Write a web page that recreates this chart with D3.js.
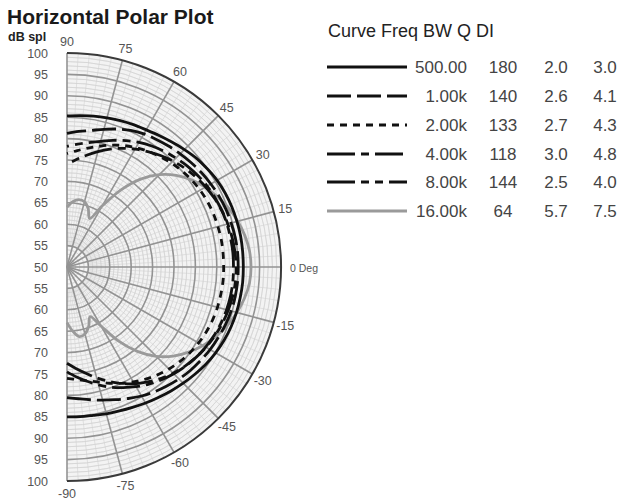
<!DOCTYPE html>
<html>
<head>
<meta charset="utf-8">
<script src="https://cdn.jsdelivr.net/npm/d3@7"></script>
<style>
  body { margin: 0; background: #fff; }
  svg { display: block; font-family: "Liberation Sans", Arial, sans-serif; }
</style>
</head>
<body>
<div id="chart"></div>
<script>
const width = 629;
const height = 501;

// data
const angles = [-90, -85, -80, -75, -70, -65, -60, -55, -50, -45, -40, -35, -30, -25, -20, -15, -10, -5,
    0, 5, 10, 15, 20, 25, 30, 35, 40, 45, 50, 55, 60, 65, 70, 75, 80, 85, 90];

const freqs = ['500.00', '1.00k', '2.00k', '4.00k', '8.00k', '16.00k'];
const bandwidths = [180, 140, 133, 118, 144, 64];
const qValues = ['2.0', '2.6', '2.7', '3.0', '2.5', '5.7'];
const diValues = ['3.0', '4.1', '4.3', '4.8', '4.0', '7.5'];

const spl500 = [85.0, 85.1, 85.2, 85.5, 85.8, 86.2, 86.7, 87.2, 87.8, 88.4, 89.0, 89.6, 90.1, 90.5, 90.8, 91.0, 91.1, 91.2,
    91.2, 91.2, 91.2, 91.1, 91.0, 90.8, 90.5, 90.0, 89.5, 88.8, 88.1, 87.5, 87.0, 86.7, 86.4, 86.1, 85.8, 85.5, 85.3];
const spl1k = [80.5, 80.9, 81.5, 82.2, 83.0, 83.9, 84.8, 85.6, 86.3, 87.0, 87.6, 88.1, 88.6, 89.0, 89.4, 89.7, 89.9, 90.0,
    90.0, 90.0, 89.9, 89.7, 89.5, 89.2, 88.8, 88.4, 87.9, 87.4, 86.9, 86.4, 85.9, 85.2, 84.3, 83.3, 82.4, 81.8, 81.2];
const spl2k = [76.0, 76.4, 77.0, 77.8, 78.9, 80.0, 81.0, 82.0, 82.9, 83.7, 84.4, 85.0, 85.5, 85.9, 86.2, 86.4, 86.5, 86.6,
    86.6, 86.6, 86.6, 86.5, 86.4, 86.2, 85.9, 85.5, 85.0, 84.4, 83.7, 83.0, 82.2, 81.3, 80.3, 79.2, 78.2, 77.3, 76.5];
const spl4k = [74.5, 75.8, 77.1, 78.5, 79.9, 81.1, 82.3, 83.4, 84.4, 85.3, 86.1, 86.8, 87.4, 87.9, 88.3, 88.6, 88.8, 88.9,
    88.9, 88.9, 88.8, 88.7, 88.5, 88.2, 87.8, 87.3, 86.7, 86.0, 85.3, 84.5, 83.6, 82.6, 81.5, 80.4, 79.5, 78.8, 78.2];
const spl8k = [72.5, 73.8, 75.2, 76.8, 78.4, 80.0, 81.5, 82.8, 84.0, 85.1, 86.0, 86.8, 87.5, 88.1, 88.6, 89.0, 89.3, 89.5,
    89.5, 89.4, 89.2, 88.9, 88.5, 88.0, 87.4, 86.7, 85.9, 85.0, 84.0, 82.9, 81.8, 80.6, 79.3, 77.9, 76.5, 75.2, 74.0];
const spl16k = [63.0, 65.0, 66.5, 66.2, 64.8, 62.8, 66.0, 71.2, 75.8, 79.5, 82.4, 84.7, 86.7, 88.4, 89.9, 91.1, 92.1, 92.8,
    93.0, 92.8, 92.2, 91.3, 90.2, 88.8, 87.3, 85.5, 83.3, 80.5, 76.8, 72.0, 66.5, 62.5, 64.5, 65.8, 66.0, 65.3, 64.0];

const radialTicks = [50, 55, 60, 65, 70, 75, 80, 85, 90, 95, 100];
const angleTicks = [90, 75, 60, 45, 30, 15, 0, -15, -30, -45, -60, -75, -90];

const series = [
    { values: spl500, color: '#111', dash: null },
    { values: spl1k, color: '#111', dash: '24,6' },
    { values: spl2k, color: '#111', dash: '7,6' },
    { values: spl4k, color: '#111', dash: '28,6,8,6' },
    { values: spl8k, color: '#111', dash: '28,6,8,6,8,6' },
    { values: spl16k, color: '#9a9a9a', dash: null }
];

const cx = 67;
const cy = 267;
const R = 214;

const svg = d3.select('#chart').append('svg')
    .attr('width', width)
    .attr('height', height);

// dB -> radius, degrees (0 = right, 90 = up) -> d3 radial angle
const r = d3.scaleLinear().domain([50, 100]).range([0, R]);
const a = d3.scaleLinear().domain([-90, 90]).range([Math.PI, 0]);

const plot = svg.append('g').attr('transform', `translate(${cx},${cy})`);

const arc = d3.arc().startAngle(0).endAngle(Math.PI);

plot.append('path')
    .attr('d', arc({ innerRadius: 0, outerRadius: R }))
    .attr('fill', '#f3f3f3');

// fine grid
const minorDb = d3.range(51, 100).filter(v => v % 5 !== 0);
plot.selectAll('.minor-ring')
    .data(minorDb)
    .enter().append('path')
    .attr('d', v => arc({ innerRadius: r(v), outerRadius: r(v) }))
    .attr('fill', 'none')
    .attr('stroke', '#d2d2d2')
    .attr('stroke-width', 0.6);

const minorDeg = d3.range(-87, 90, 3).filter(v => v % 15 !== 0);
plot.selectAll('.minor-spoke')
    .data(minorDeg)
    .enter().append('line')
    .attr('x1', d => r(55) * Math.sin(a(d)))
    .attr('y1', d => -r(55) * Math.cos(a(d)))
    .attr('x2', d => R * Math.sin(a(d)))
    .attr('y2', d => -R * Math.cos(a(d)))
    .attr('stroke', '#d2d2d2')
    .attr('stroke-width', 0.6);

// major grid
plot.selectAll('.ring')
    .data(radialTicks.slice(1, -1))
    .enter().append('path')
    .attr('d', v => arc({ innerRadius: r(v), outerRadius: r(v) }))
    .attr('fill', 'none')
    .attr('stroke', '#939393')
    .attr('stroke-width', 1.6);

plot.selectAll('.spoke')
    .data(angleTicks)
    .enter().append('line')
    .attr('x1', 0)
    .attr('y1', 0)
    .attr('x2', d => R * Math.sin(a(d)))
    .attr('y2', d => -R * Math.cos(a(d)))
    .attr('stroke', '#939393')
    .attr('stroke-width', 1.6);

plot.append('path')
    .attr('d', d3.arc()({ innerRadius: R, outerRadius: R, startAngle: 0, endAngle: Math.PI }))
    .attr('fill', 'none')
    .attr('stroke', '#3a3a3a')
    .attr('stroke-width', 2);

// curves
const line = d3.lineRadial()
    .angle((d, i) => a(angles[i]))
    .radius(d => r(d))
    .curve(d3.curveCatmullRom);

plot.selectAll('.curve')
    .data(series.slice().reverse())
    .enter().append('path')
    .attr('d', d => line(d.values))
    .attr('fill', 'none')
    .attr('stroke', d => d.color)
    .attr('stroke-width', 2.8)
    .attr('stroke-dasharray', d => d.dash);

// radial tick labels, both halves
const labelDb = radialTicks.slice().reverse().concat(radialTicks.slice(1));
const labelSide = radialTicks.slice().reverse().map(() => -1).concat(radialTicks.slice(1).map(() => 1));
svg.selectAll('.rlabel')
    .data(labelDb)
    .enter().append('text')
    .attr('x', 48)
    .attr('y', (d, i) => cy + labelSide[i] * r(d) + 4.5)
    .attr('text-anchor', 'end')
    .attr('font-size', '12.5px')
    .attr('fill', '#555')
    .text(d => d);

// angle labels
plot.selectAll('.alabel')
    .data(angleTicks)
    .enter().append('text')
    .attr('x', d => d === 0 ? R + 9 : (R + 12) * Math.sin(a(d)))
    .attr('y', d => -(R + 12) * Math.cos(a(d)) + 4.5)
    .attr('text-anchor', d => d === 0 ? 'start' : 'middle')
    .attr('font-size', d => d === 0 ? '10.5px' : '12.5px')
    .attr('fill', '#555')
    .text(d => d === 0 ? '0 Deg' : d);

// titles
svg.append('text')
    .attr('x', 7)
    .attr('y', 24)
    .attr('font-size', '21px')
    .attr('font-weight', 'bold')
    .attr('fill', '#1a1a1a')
    .text('Horizontal Polar Plot');

svg.append('text')
    .attr('x', 8)
    .attr('y', 41)
    .attr('font-size', '12.5px')
    .attr('font-weight', 'bold')
    .attr('fill', '#222')
    .text('dB spl');

// legend table
const rowY = [67, 96, 125, 154, 182, 211];

svg.append('text')
    .attr('x', 328)
    .attr('y', 37)
    .attr('font-size', '18px')
    .attr('fill', '#222')
    .text('Curve Freq BW Q DI');

const rows = svg.selectAll('.row')
    .data(series)
    .enter().append('g')
    .attr('transform', (d, i) => `translate(0,${rowY[i]})`);

rows.append('line')
    .attr('x1', 327)
    .attr('x2', 407)
    .attr('stroke', d => d.color)
    .attr('stroke-width', 3.2)
    .attr('stroke-dasharray', d => d.dash);

const cell = (x, anchor, text) => rows.append('text')
    .attr('x', x)
    .attr('y', 6)
    .attr('text-anchor', anchor)
    .attr('font-size', '17px')
    .attr('fill', '#444')
    .text(text);

cell(467, 'end', (d, i) => freqs[i]);
cell(503, 'middle', (d, i) => bandwidths[i]);
cell(556, 'middle', (d, i) => qValues[i]);
cell(605, 'middle', (d, i) => diValues[i]);
</script>
</body>
</html>
